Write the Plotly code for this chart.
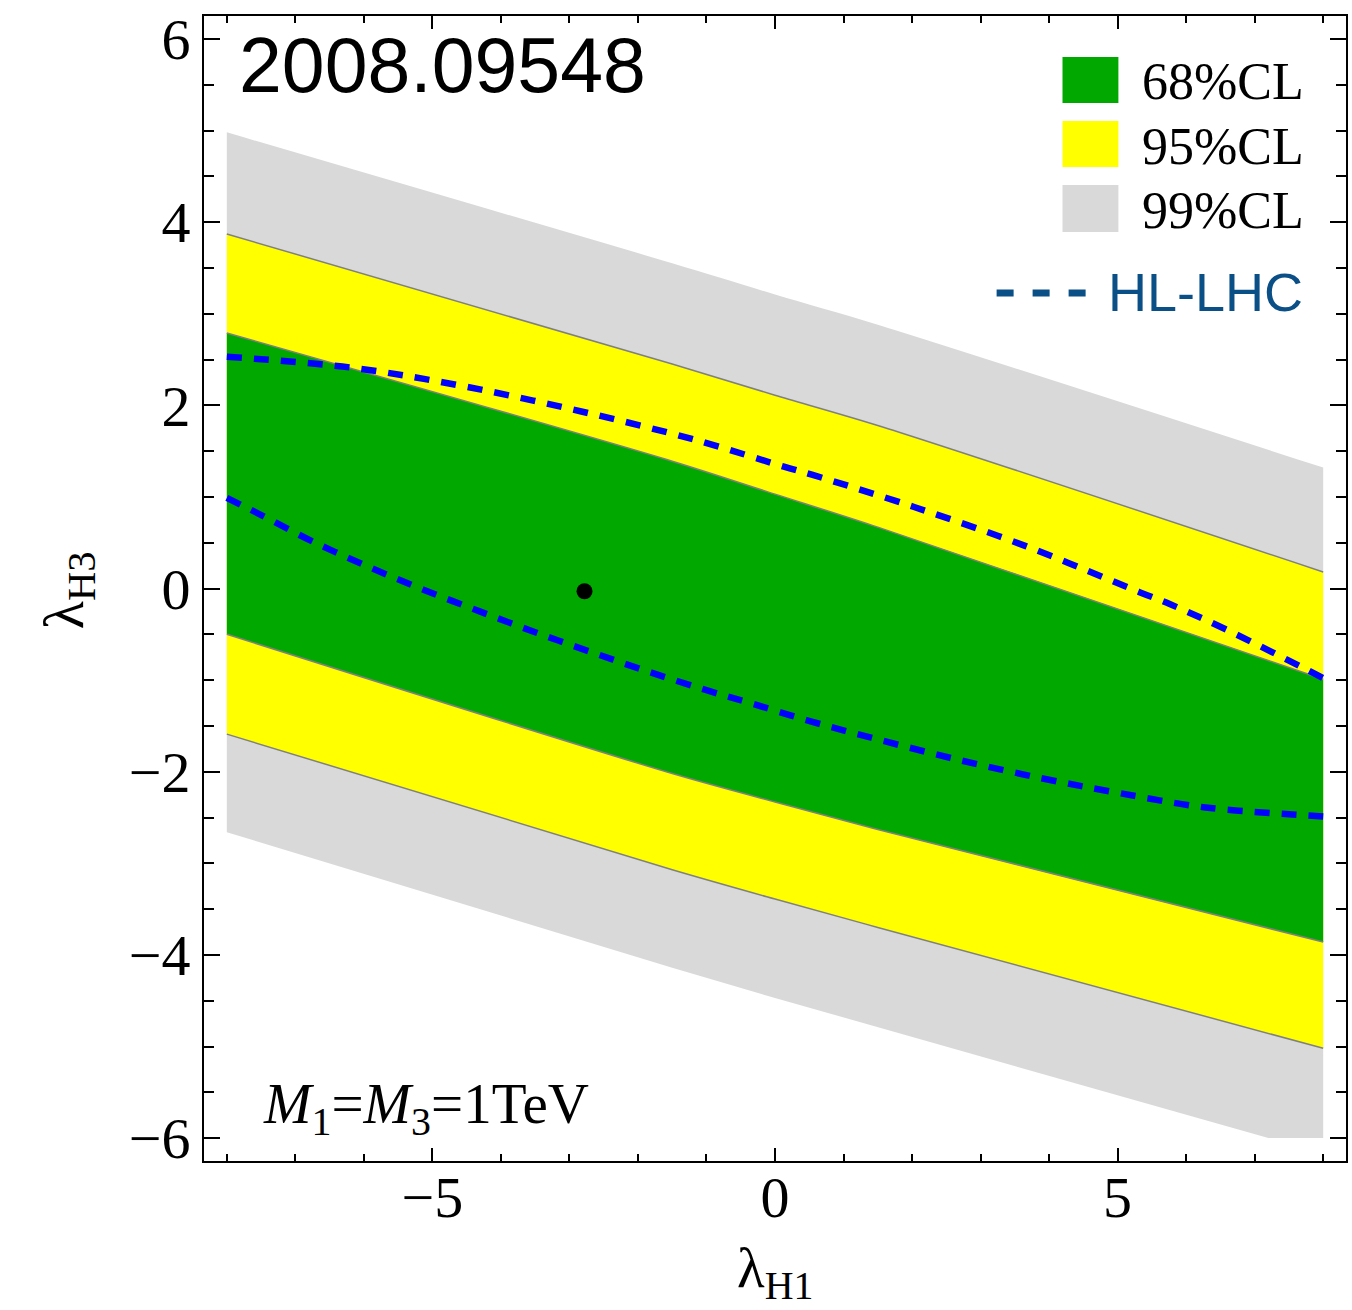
import plotly.graph_objects as go

# ---- confidence bands in the (lambda_H1, lambda_H3) plane ----
band_x = [-8.0, -1.5, 0.0, 1.5, 8.0]
gray_top = [4.98, 3.55, 3.21, 2.88, 1.32]
yellow_top = [3.87, 2.45, 2.11, 1.78, 0.18]
green_top = [2.79, 1.39, 1.03, 0.67, -0.99]
green_bottom = [-0.50, -2.02, -2.33, -2.63, -3.86]
yellow_bottom = [-1.59, -3.07, -3.39, -3.70, -5.02]
gray_bottom_x = [-8.0, -1.5, 0.0, 1.5, 3.27, 7.2, 8.0]
gray_bottom = [-2.66, -4.14, -4.47, -4.79, -5.17, -6.0, -6.0]

# ---- HL-LHC projected contour (two branches) ----
hl_upper_x = [-8.0, -6.17, -4.49, -2.81, -1.15, 0.13, 0.55, 2.03, 3.67, 5.32, 5.76, 6.59, 7.77, 8.0]
hl_upper_y = [2.53, 2.41, 2.20, 1.93, 1.62, 1.33, 1.24, 0.89, 0.46, -0.04, -0.17, -0.45, -0.89, -0.98]
hl_lower_x = [-8.0, -7.52, -6.74, -5.94, -5.14, -4.31, -3.49, -2.66, -1.84, -1.0, -0.32, 0.52,
              1.36, 2.62, 3.88, 5.0, 6.28, 7.61, 8.0]
hl_lower_y = [0.99, 0.81, 0.51, 0.24, -0.01, -0.25, -0.48, -0.70, -0.91, -1.11, -1.26, -1.45,
              -1.62, -1.86, -2.07, -2.23, -2.39, -2.47, -2.49]

# best-fit point
best_x = [-2.78]
best_y = [-0.03]

legend_labels = ["68%CL", "95%CL", "99%CL"]

GREEN = "#00A800"
YELLOW = "#FFFF00"
GRAY = "#D9D9D9"
EDGE = "#808080"
BLUE = "#0000FF"
HL_TEXT = "#0B4F87"

W, H = 1352, 1310
L, R, T, B = 204, 1348, 16, 1161


def px(xp):
    return (xp - L) / (R - L)


def py(yp):
    return (B - yp) / (B - T)


fig = go.Figure()


def add_band(x_lo, y_lo, x_up, y_up, color, lo_shape="spline"):
    # lower edge first, then the upper edge filled down to it
    fig.add_trace(go.Scatter(x=x_lo, y=y_lo, mode="lines",
                             line=dict(width=0, color=color, shape=lo_shape, smoothing=0.8),
                             hoverinfo="skip"))
    fig.add_trace(go.Scatter(x=x_up, y=y_up, mode="lines", fill="tonexty", fillcolor=color,
                             line=dict(width=0, color=color, shape="spline", smoothing=0.8),
                             hoverinfo="skip"))


# the 99% band's lower edge is cut flat at the bottom of the scanned range
add_band(gray_bottom_x, gray_bottom, band_x, gray_top, GRAY, lo_shape="linear")
add_band(band_x, yellow_bottom, band_x, yellow_top, YELLOW)
add_band(band_x, green_bottom, band_x, green_top, GREEN)

for edge in (yellow_top, green_top, green_bottom, yellow_bottom):
    fig.add_trace(go.Scatter(x=band_x, y=edge, mode="lines",
                             line=dict(color=EDGE, width=1.5, shape="spline", smoothing=0.8),
                             hoverinfo="skip"))

for xs, ys in ((hl_upper_x, hl_upper_y), (hl_lower_x, hl_lower_y)):
    fig.add_trace(go.Scatter(x=xs, y=ys, mode="lines",
                             line=dict(color=BLUE, width=6.5, dash="15px,12px", shape="spline"),
                             hoverinfo="skip"))

fig.add_trace(go.Scatter(x=best_x, y=best_y, mode="markers",
                         marker=dict(color="black", size=16)))

serif = "Liberation Serif"
sans = "Liberation Sans"

axis_common = dict(
    showline=True, linecolor="black", linewidth=2, mirror="allticks",
    ticks="inside", tickcolor="black", tickwidth=2,
    showgrid=False, zeroline=False,
    tickfont=dict(family=serif, size=58, color="black"),
)

fig.update_xaxes(range=[-8.333, 8.333], tick0=0, dtick=5, ticklen=13,
                 ticklabelstandoff=-16,
                 minor=dict(dtick=1, ticks="inside", ticklen=7, tickwidth=2, tickcolor="black"),
                 **axis_common)
fig.update_yaxes(range=[-6.25, 6.25], tick0=0, dtick=2, ticklen=16,
                 minor=dict(dtick=0.5, ticks="inside", ticklen=10, tickwidth=2, tickcolor="black"),
                 **axis_common)

shapes = []
annotations = []

# legend swatches and labels
swatches = [(57, 103, GREEN), (121, 167, YELLOW), (185, 232, GRAY)]
for (y0, y1, col), lab in zip(swatches, legend_labels):
    shapes.append(dict(type="rect", xref="paper", yref="paper",
                       x0=px(1064), x1=px(1120), y0=py(y1), y1=py(y0),
                       fillcolor=col, line=dict(width=0)))
    annotations.append(dict(text=lab, xref="paper", yref="paper",
                            x=px(1142), y=py((y0 + y1) / 2 + 2),
                            xanchor="left", yanchor="middle", showarrow=False,
                            font=dict(family=serif, size=52, color="black")))

shapes.append(dict(type="line", xref="paper", yref="paper",
                   x0=px(998), x1=px(1090), y0=py(293), y1=py(293),
                   line=dict(color=HL_TEXT, width=7, dash="17px,19px")))
annotations.append(dict(text="HL-LHC", xref="paper", yref="paper",
                        x=px(1108), y=py(292), xanchor="left", yanchor="middle",
                        showarrow=False, font=dict(family=sans, size=54, color=HL_TEXT)))

annotations.append(dict(text="2008.09548", xref="paper", yref="paper",
                        x=px(237), y=py(65), xanchor="left", yanchor="middle",
                        showarrow=False, font=dict(family=sans, size=77, color="black")))

annotations.append(dict(text="<i>M</i><sub>1</sub>=<i>M</i><sub>3</sub>=1TeV",
                        xref="paper", yref="paper",
                        x=px(261), y=py(1108), xanchor="left", yanchor="middle",
                        showarrow=False, font=dict(family=serif, size=57, color="black")))

# axis titles
annotations.append(dict(text="λ<sub>H1</sub>", xref="paper", yref="paper",
                        x=px(776), y=py(1272), xanchor="center", yanchor="middle",
                        showarrow=False, font=dict(family=serif, size=57, color="black")))
annotations.append(dict(text="λ<sub>H3</sub>", xref="paper", yref="paper",
                        x=px(67), y=py(590), xanchor="center", yanchor="middle",
                        textangle=-90, showarrow=False,
                        font=dict(family=serif, size=58, color="black")))

fig.update_layout(
    width=W, height=H,
    margin=dict(l=L, r=W - R, t=T, b=H - B),
    plot_bgcolor="white", paper_bgcolor="white",
    showlegend=False,
    shapes=shapes, annotations=annotations,
)

fig.write_html("out.html")
